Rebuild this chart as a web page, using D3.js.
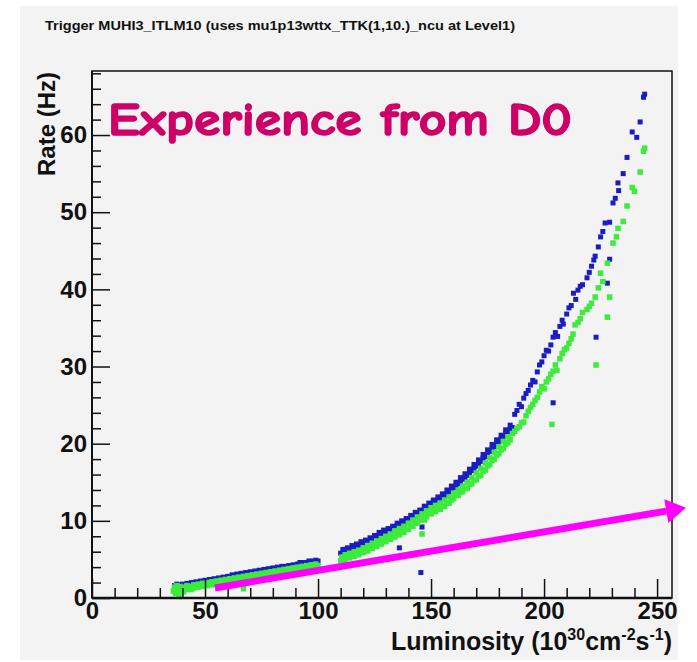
<!DOCTYPE html>
<html>
<head>
<meta charset="utf-8">
<script src="https://cdn.jsdelivr.net/npm/d3@7"></script>
<style>
  html, body { margin: 0; padding: 0; background: #fff; }
  svg { display: block; }
</style>
</head>
<body>
<div id="chart"></div>
<script>
// axis ticks
const xTickLabels = [0, 50, 100, 150, 200, 250];
const xMinorTicks = [10, 20, 30, 40, 60, 70, 80, 90, 110, 120, 130, 140, 160, 170, 180, 190, 210, 220, 230, 240];
const yTickLabels = [0, 10, 20, 30, 40, 50, 60];
const yMinorTicks = [2, 4, 6, 8, 12, 14, 16, 18, 22, 24, 26, 28, 32, 34, 36, 38, 42, 44, 46, 48, 52, 54, 56, 58, 62, 64, 66, 68];

// [luminosity, rate]
const blueLow = [
  [36.5,1.6],[37,1.3],[37.5,1.8],[38,1.5],[39,1.7],[39.5,1.3],[40,1.8],[41,1.6],[42,1.9],[43,1.7],
  [44,2.0],[45,1.8],[46,2.1],[47,1.9],[48,2.2],[49,2.1],[50,2.3],[51,2.2],[52,2.4],[53,2.3],
  [54,2.5],[55,2.4],[56,2.6],[57,2.5],[58,2.7],[59,2.6],[60,2.8],[61,2.7],[62,3.0],[63,2.9],
  [64,3.1],[65,3.0],[66,3.2],[67,3.1],[68,3.3],[69,3.2],[70,3.4],[71,3.3],[72,3.5],[73,3.4],
  [74,3.6],[75,3.5],[76,3.7],[77,3.6],[78,3.8],[79,3.7],[80,3.9],[81,3.8],[82,4.0],[83,3.9],
  [84,4.1],[85,4.0],[86,4.1],[87,4.2],[88,4.1],[89,4.3],[90,4.2],[91,4.4],[92,4.6],[93,4.5],
  [94,4.6],[95,4.5],[96,4.8],[97,4.7],[98,4.8],[99,4.9],[100,4.8]
];
const blueMid = [
  [110,5.8],[111,6.3],[112,6.0],[113,6.5],[114,6.3],[115,6.8],[116,6.6],[117,7.0],[118,6.8],[119,7.3],
  [120,7.1],[121,7.5],[122,7.3],[123,7.8],[124,7.6],[125,8.1],[126,7.9],[127,8.5],[128,8.3],[129,8.8],
  [130,8.6],[131,9.0],[132,8.8],[133,9.3],[134,9.1],[135,9.7],[136,9.5],[136,6.5],[137,10.0],[138,9.8],
  [139,10.3],[140,10.1],[141,10.7],[142,10.5],[143,11.1],[144,10.9],[145,11.4],[145.5,3.3],[146,9.2],[146.5,11.3],
  [147,11.9],[148,11.7],[149,12.3],[150,12.1],[151,12.7],[152,12.5],[153,13.1],[154,12.9],[155,13.5],[156,13.3],
  [157,14.0],[158,13.8],[159,14.5],[160,14.3],[161,15.0],[162,14.8],[163,15.6],[164,15.4],[165,16.1],[166,15.9],
  [167,16.7],[168,16.5],[169,17.3],[170,17.1],[171,17.9],[172,17.7],[173,18.6],[174,18.3],[175,19.2],[176,19.0],
  [177,19.9],[178,19.6],[179,20.5],[180,20.3],[181,21.1],[182,20.9],[183,21.8],[184,21.5],[185,22.4],[186,22.1]
];
const blueMidLower = [
  [111,5.7],[113,6.0],[115,6.3],[117,6.5],[119,6.8],[121,7.0],[123,7.3],[125,7.6],[127,7.9],[129,8.2],
  [131,8.5],[133,8.8],[135,9.2],[137,9.5],[139,9.8],[141,10.2],[143,10.6],[145,10.9],[147,11.4],[149,11.8],
  [151,12.2],[153,12.6],[155,13.0],[157,13.5],[159,14.0],[161,14.5],[163,15.1],[165,15.6],[167,16.2],[169,16.8],
  [171,17.4],[173,18.1],[175,18.7],[177,19.4],[179,20.0],[181,20.7],[183,21.3],[185,21.9]
];
const blueHigh = [
  [187,23.8],[188,24.3],[189,25.1],[190,24.8],[191,25.9],[192,26.5],[193,26.9],[194,27.6],[195,28.2],[196,28.0],
  [197,29.3],[198,30.2],[199,30.6],[200,31.4],[201,32.1],[202,32.0],[203,32.8],[204,25.3],[204,33.8],[205,34.4],
  [206,33.9],[207,35.2],[208,36.0],[208.5,35.5],[210,36.8],[211,37.6],[212,37.9],[213,39.5],[214,38.7],[215,39.9],
  [216,40.4],[217,40.6],[219,41.5],[220,42.2],[221,43.0],[222,43.8],[222.6,44.3],[223,33.8],[224,45.5],[225,46.8],
  [226,47.5],[227,48.6],[228,40.8],[229,48.7],[229,43.9],[230.5,51.2],[231.5,51.8],[233,52.8],[232.7,53.8],[235,55.0],
  [236.7,57.1],[239,60.4],[241,59.7],[242.5,61.7],[244,64.9],[244.5,65.3]
];
const greenLow = [
  [36,0.9],[36.5,1.4],[37,0.6],[37,1.1],[37.5,1.6],[38,0.8],[38,1.3],[38.5,0.2],[39,1.0],[39,1.5],
  [40,1.2],[40.5,0.8],[41,1.4],[42,1.1],[42,1.6],[43,1.3],[44,1.5],[44,1.1],[45,1.7],[45,1.3],
  [46,1.5],[47,1.8],[47,1.4],[48,1.6],[49,1.9],[49,1.5],[50,1.7],[51,2.0],[51,1.6],[52,1.8],
  [53,2.1],[53,1.7],[54,1.9],[55,2.2],[55,1.8],[56,2.0],[57,2.3],[57,1.9],[58,2.1],[59,2.4],
  [59,2.0],[60,2.2],[61,2.5],[61,2.1],[62,2.3],[63,2.6],[63,2.2],[64,2.4],[65,2.7],[65,2.3],
  [66,2.5],[67,1.2],[67,2.8],[68,2.5],[69,2.9],[69,2.6],[70,2.7],[71,3.0],[71,2.6],[72,2.8],
  [73,3.1],[73,2.7],[74,2.9],[75,3.2],[75,2.8],[76,3.0],[77,3.3],[77,2.9],[78,3.1],[79,3.4],
  [79,3.0],[80,3.2],[81,3.5],[81,3.1],[82,3.3],[83,3.6],[83,3.2],[84,3.4],[85,3.7],[85,3.3],
  [86,3.5],[87,3.8],[87,3.4],[88,3.6],[89,3.9],[89,3.5],[90,3.7],[91,4.0],[91,3.6],[92,3.8],
  [93,4.1],[93,3.7],[94,3.9],[95,4.2],[95,3.8],[96,4.0],[97,4.3],[97,3.9],[98,4.1],[99,4.4],
  [99,4.0],[100,4.2]
];
const greenMid = [
  [110,4.8],[110.5,5.3],[111,4.9],[112,5.6],[112,5.0],[113,5.3],[114,5.8],[114,5.2],[115,5.5],[116,6.0],
  [116,5.4],[117,5.7],[118,6.2],[118,5.6],[119,5.9],[120,6.5],[120,5.9],[121,6.2],[122,6.8],[122,6.1],
  [123,6.5],[124,7.1],[124,6.4],[125,6.8],[126,7.4],[126,6.7],[127,7.1],[128,7.7],[128,7.0],[129,7.4],
  [130,8.0],[130,7.3],[131,7.7],[132,8.3],[132,7.6],[133,8.0],[134,8.7],[134,7.9],[135,8.3],[136,9.0],
  [136,8.2],[137,8.6],[138,9.3],[138,8.5],[139,8.9],[140,9.7],[140,8.9],[141,9.3],[142,10.1],[142,9.3],
  [143,9.7],[144,10.5],[144,9.7],[145,10.1],[146,8.3],[146,10.9],[147,10.1],[147,10.6],[148,11.3],[148,10.5],
  [149,11.0],[150,11.7],[150,10.9],[151,11.4],[152,12.0],[152,11.2],[153,11.6],[154,12.3],[154,11.5],[155,11.9],
  [156,12.7],[156,11.9],[157,12.3],[158,13.1],[158,12.3],[159,12.7],[160,13.6],[160,12.9],[161,13.3],[162,14.0],
  [162,13.3],[163,13.7],[164,14.5],[164,13.8],[165,14.2],[166,15.0],[166,14.2],[167,14.7],[168,15.6],[168,14.8],
  [169,15.2],[170,16.2],[170,15.3],[171,15.8],[172,16.8],[172,15.9],[173,16.4],[174,17.5],[174,16.6],[175,17.1],
  [176,18.2],[176,17.3],[177,17.8],[178,18.9],[178,18.0],[179,18.5],[180,19.6],[180,18.7],[181,19.2],[182,20.3],
  [182,19.4],[183,19.9],[184,20.9],[184,20.1],[185,20.5],[186,21.3]
];
const greenHigh = [
  [187,21.6],[188,22.0],[189,22.2],[190,22.7],[191,22.8],[192,23.6],[193,24.2],[194,24.7],[195,25.1],[196,25.6],
  [197,26.0],[198,26.7],[199,27.4],[200,27.1],[201,28.0],[202,28.4],[203,29.0],[203.5,22.5],[204,29.4],[205,30.2],
  [205.7,29.5],[207,31.0],[208,31.7],[209,32.2],[210,32.4],[211,33.0],[212,33.6],[212.8,34.2],[213.7,35.4],[215,35.7],
  [216,36.2],[217,37.0],[219,37.4],[220,37.8],[221,38.2],[222.6,39.0],[223,30.2],[224,40.2],[225,42.1],[226,41.0],
  [228,43.4],[228,36.4],[229,39.0],[230.5,46.0],[232,46.8],[232.7,47.9],[235,48.8],[236.7,50.8],[239,53.2],[240,52.7],
  [242.5,55.2],[244,57.9],[244.5,58.3]
];

// annotation arrow, in data units
const arrowFrom = [54.4, 1.3];
const arrowTo = [262.8, 11.7];

const W = 697, H = 662;
const frame = {left: 92, right: 672, top: 71, bottom: 598};

const svg = d3.select('#chart').append('svg')
  .attr('width', W)
  .attr('height', H);

svg.append('rect').attr('width', W).attr('height', H).attr('fill', '#ffffff');
svg.append('rect')
  .attr('x', 20).attr('y', 6)
  .attr('width', 658).attr('height', 654)
  .attr('fill', '#f3f3f3');

const x = d3.scaleLinear().domain([0, 256.6]).range([frame.left, frame.right]);
const y = d3.scaleLinear().domain([0, 68.3]).range([frame.bottom, frame.top]);

const labelFont = '"Liberation Sans", Arial, Helvetica, sans-serif';

// title
svg.append('text')
  .attr('x', 45)
  .attr('y', 30)
  .attr('font-family', labelFont)
  .attr('font-weight', 'bold')
  .attr('font-size', 13)
  .attr('textLength', 470)
  .attr('lengthAdjust', 'spacingAndGlyphs')
  .attr('fill', '#111')
  .text('Trigger MUHI3_ITLM10 (uses mu1p13wttx_TTK(1,10.)_ncu at Level1)');

// points
function drawPoints(data, color, size) {
  svg.append('g')
    .selectAll('rect')
    .data(data)
    .enter().append('rect')
    .attr('x', d => x(d[0]) - size / 2)
    .attr('y', d => y(d[1]) - size / 2)
    .attr('width', size)
    .attr('height', size)
    .attr('fill', color);
}
drawPoints(blueLow.concat(blueMid, blueMidLower, blueHigh), '#1c1cc4', 5);
drawPoints(greenLow.concat(greenMid, greenHigh), '#3ceb3c', 5.5);

// axes, ROOT style ticks pointing inwards
const xMajor = svg.append('g')
  .attr('transform', `translate(0,${frame.bottom})`)
  .call(d3.axisBottom(x).tickValues(xTickLabels).tickSizeInner(-19).tickSizeOuter(0).tickPadding(4).tickFormat(d3.format('d')));
const xMinor = svg.append('g')
  .attr('transform', `translate(0,${frame.bottom})`)
  .call(d3.axisBottom(x).tickValues(xMinorTicks).tickSizeInner(-10).tickSizeOuter(0).tickFormat(''));
const yMajor = svg.append('g')
  .attr('transform', `translate(${frame.left},0)`)
  .call(d3.axisLeft(y).tickValues(yTickLabels).tickSizeInner(-18).tickSizeOuter(0).tickPadding(5).tickFormat(d3.format('d')));
const yMinor = svg.append('g')
  .attr('transform', `translate(${frame.left},0)`)
  .call(d3.axisLeft(y).tickValues(yMinorTicks).tickSizeInner(-9).tickSizeOuter(0).tickFormat(''));

[xMajor, xMinor, yMajor, yMinor].forEach(g => {
  g.select('.domain').remove();
  g.selectAll('line').attr('stroke', '#111').attr('stroke-width', 1.5);
  g.selectAll('text')
    .attr('font-family', labelFont)
    .attr('font-weight', 'bold')
    .attr('font-size', 24)
    .attr('fill', '#111');
});

// frame
svg.append('rect')
  .attr('x', frame.left).attr('y', frame.top)
  .attr('width', frame.right - frame.left)
  .attr('height', frame.bottom - frame.top)
  .attr('fill', 'none')
  .attr('stroke', '#111')
  .attr('stroke-width', 1.5);
svg.append('line')
  .attr('x1', frame.left).attr('x2', frame.right)
  .attr('y1', frame.bottom).attr('y2', frame.bottom)
  .attr('stroke', '#111').attr('stroke-width', 2.5);
svg.append('line')
  .attr('x1', frame.left).attr('x2', frame.left)
  .attr('y1', frame.top).attr('y2', frame.bottom)
  .attr('stroke', '#111').attr('stroke-width', 2);

// axis titles
const xTitle = svg.append('text')
  .attr('x', frame.right)
  .attr('y', 650)
  .attr('text-anchor', 'end')
  .attr('font-family', labelFont)
  .attr('font-weight', 'bold')
  .attr('font-size', 25)
  .attr('fill', '#111');
xTitle.append('tspan').text('Luminosity (10');
xTitle.append('tspan').attr('dy', -10).attr('font-size', 16).text('30');
xTitle.append('tspan').attr('dy', 10).text('cm');
xTitle.append('tspan').attr('dy', -10).attr('font-size', 16).text('-2');
xTitle.append('tspan').attr('dy', 10).text('s');
xTitle.append('tspan').attr('dy', -10).attr('font-size', 16).text('-1');
xTitle.append('tspan').attr('dy', 10).text(')');

svg.append('text')
  .attr('transform', `translate(55,${frame.top + 1}) rotate(-90)`)
  .attr('text-anchor', 'end')
  .attr('font-family', labelFont)
  .attr('font-weight', 'bold')
  .attr('font-size', 24)
  .attr('fill', '#111')
  .text('Rate (Hz)');

// annotation
svg.append('text')
  .attr('x', 108)
  .attr('y', 135)
  .attr('font-family', '"Comic Sans MS", "Comic Neue", Lato, "DejaVu Sans", sans-serif')
  .attr('font-weight', 'bold')
  .attr('font-size', 46)
  .attr('textLength', 464)
  .attr('lengthAdjust', 'spacingAndGlyphs')
  .attr('fill', '#cc0066')
  .attr('stroke', '#cc0066')
  .attr('stroke-width', 1.6)
  .attr('stroke-linejoin', 'round')
  .text('Experience from D0');

const ax0 = x(arrowFrom[0]), ay0 = y(arrowFrom[1]);
const ax1 = x(arrowTo[0]), ay1 = y(arrowTo[1]);
const len = Math.hypot(ax1 - ax0, ay1 - ay0);
const ux = (ax1 - ax0) / len, uy = (ay1 - ay0) / len;
const headLen = 20, headHalf = 12;
const bx = ax1 - ux * headLen, by = ay1 - uy * headLen;

svg.append('line')
  .attr('x1', ax0).attr('y1', ay0)
  .attr('x2', bx).attr('y2', by)
  .attr('stroke', '#ff00ff')
  .attr('stroke-width', 7);
svg.append('polygon')
  .attr('points', [
    [ax1, ay1],
    [bx - uy * headHalf, by + ux * headHalf],
    [bx + uy * headHalf, by - ux * headHalf]
  ].map(p => p.join(',')).join(' '))
  .attr('fill', '#ff00ff');
</script>
</body>
</html>
